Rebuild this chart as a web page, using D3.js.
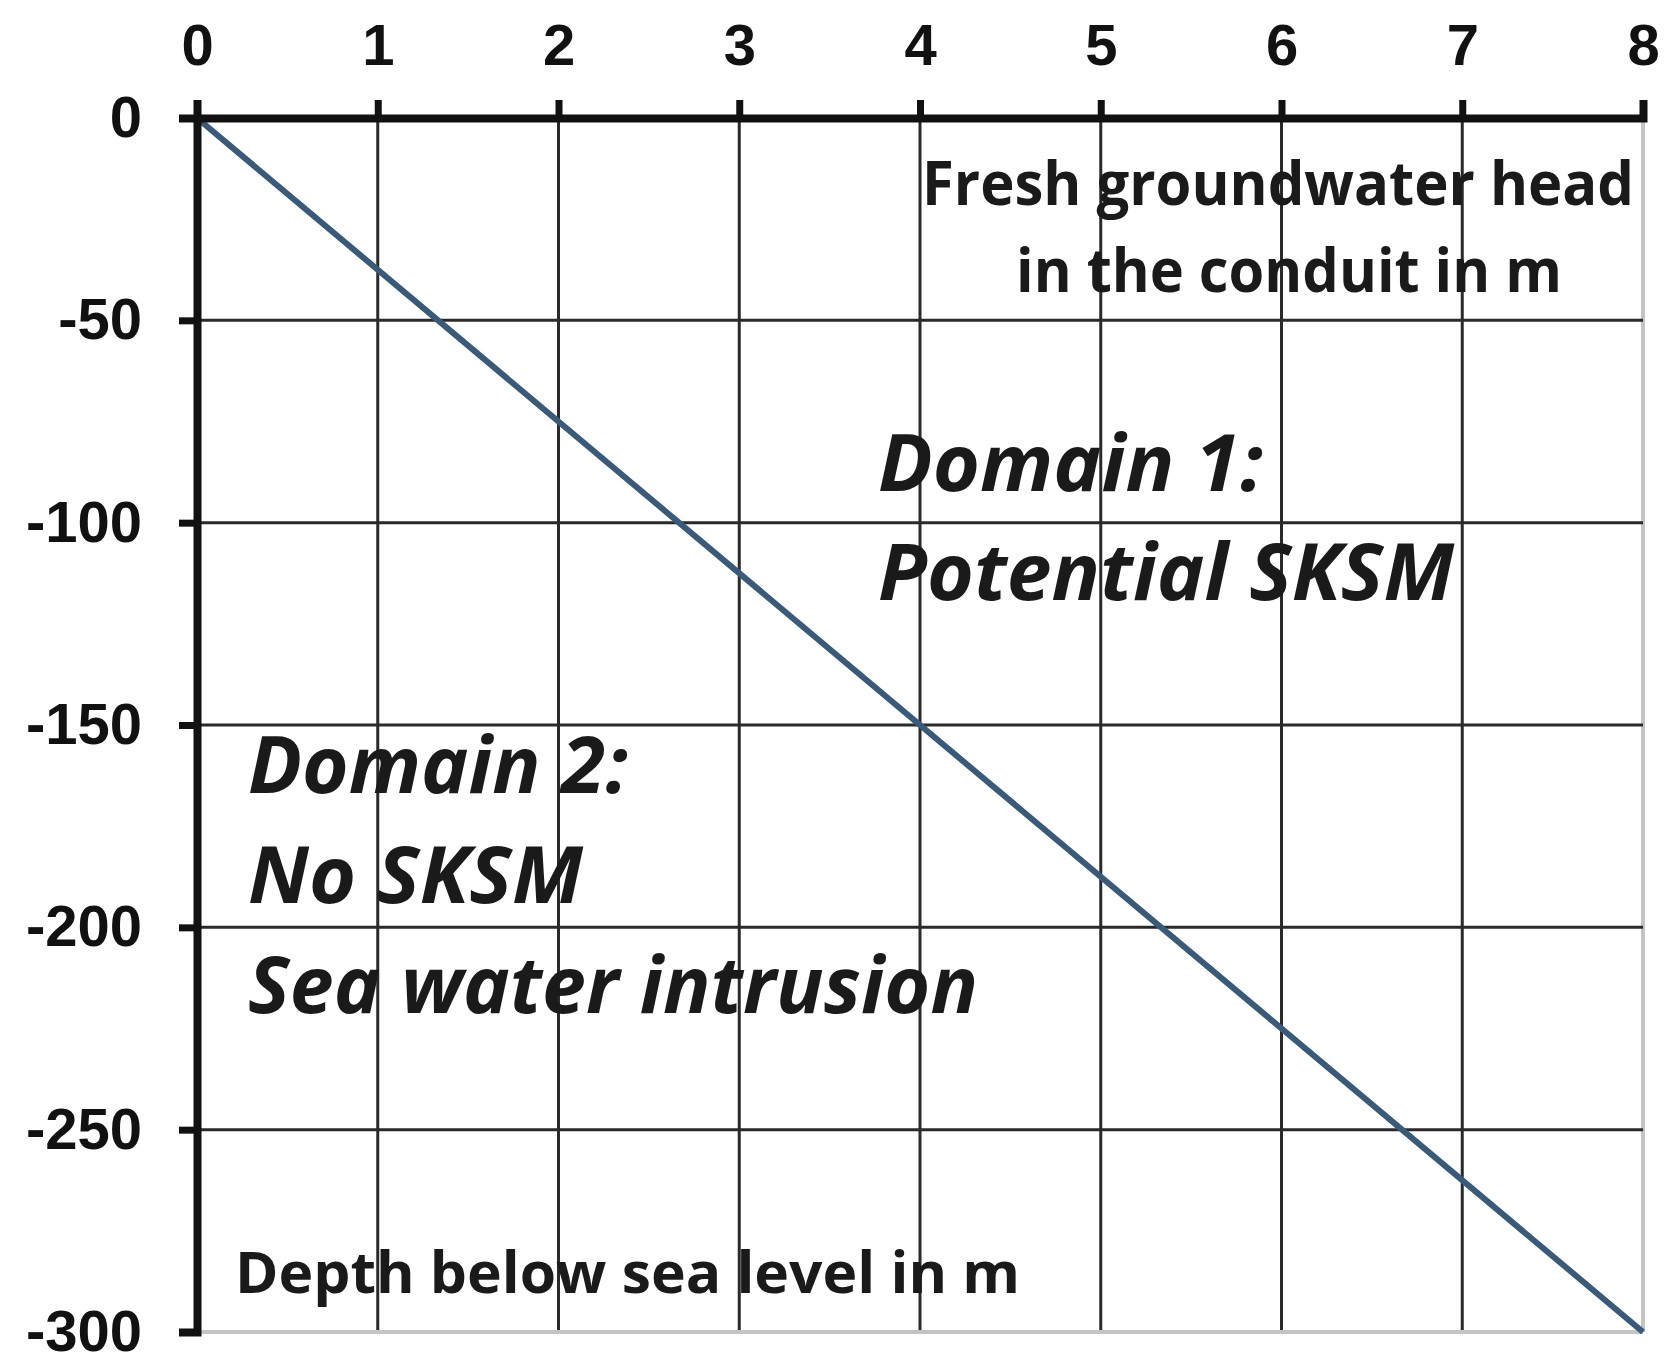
<!DOCTYPE html>
<html lang="en">
<head>
  <meta charset="utf-8">
  <script src="https://d3js.org/d3.v7.min.js"></script>
  <style>
    body, html {
      margin: 0;
      padding: 0;
      background: #fff;
    }
    .tick text {
      font-family: "Liberation Sans", Arial, sans-serif;
      font-weight: bold;
      font-size: 58px;
      fill: #111;
    }
    .note {
      font-family: "Open Sans", "Noto Sans", sans-serif;
      font-weight: bold;
      fill: #1a1a1a;
    }
  </style>
</head>
<body>
<svg id="chart" width="1674" height="1363"></svg>

<script>
    // head of fresh groundwater in the conduit (m) vs depth below sea level (m)
    var headTicks = [0, 1, 2, 3, 4, 5, 6, 7, 8];
    var depthTicks = [0, -50, -100, -150, -200, -250, -300];
    var lineHead = [0, 8];
    var lineDepth = [0, -300];

    var margin = {top: 118, left: 197, right: 31, bottom: 31},
        width = 1674 - margin.left - margin.right,
        height = 1363 - margin.top - margin.bottom;

    var svg = d3.select("#chart");
    svg.append("rect").attr("width", 1674).attr("height", 1363).attr("fill", "#fff");

    var g = svg.append("g")
        .attr("transform", "translate(" + margin.left + "," + margin.top + ")");

    var x = d3.scaleLinear().domain([0, 8]).range([0, width]);
    var y = d3.scaleLinear().domain([0, -300]).range([0, height]);

    // grid lines (the last one on each side is lighter)
    g.selectAll(".vgrid")
        .data(headTicks.slice(1))
        .enter().append("line")
        .attr("x1", d => x(d)).attr("x2", d => x(d))
        .attr("y1", 0).attr("y2", height)
        .attr("stroke", d => d === 8 ? "#c4c4c4" : "#2a2a2a")
        .attr("stroke-width", d => d === 8 ? 4 : 3);

    g.selectAll(".hgrid")
        .data(depthTicks.slice(1))
        .enter().append("line")
        .attr("x1", 0).attr("x2", width)
        .attr("y1", d => y(d)).attr("y2", d => y(d))
        .attr("stroke", d => d === -300 ? "#c4c4c4" : "#2a2a2a")
        .attr("stroke-width", d => d === -300 ? 4 : 3);

    // the line
    var pts = lineHead.map((h, i) => [h, lineDepth[i]]);
    g.append("path")
        .datum(pts)
        .attr("fill", "none")
        .attr("stroke", "#3a5a7a")
        .attr("stroke-width", 6)
        .attr("d", d3.line().x(d => x(d[0])).y(d => y(d[1])));

    // axes
    var fmt = d => String(d);
    var xAxis = g.append("g")
        .call(d3.axisTop(x).tickValues(headTicks).tickFormat(fmt).tickSize(18).tickSizeOuter(18).tickPadding(35));
    var yAxis = g.append("g")
        .call(d3.axisLeft(y).tickValues(depthTicks).tickFormat(fmt).tickSize(18).tickSizeOuter(18).tickPadding(37));

    [xAxis, yAxis].forEach(function(a) {
        a.select(".domain").attr("stroke", "#111").attr("stroke-width", 8).attr("stroke-linejoin", "miter");
        a.selectAll(".tick line").attr("stroke", "#111").attr("stroke-width", 7);
    });
    xAxis.selectAll(".tick text").attr("dy", "0");

    // annotations
    var notes = [
        {t: "Fresh groundwater head", x: 922, y: 205, w: 712, size: 60, it: false},
        {t: "in the conduit in m", x: 1016, y: 292, w: 546, size: 60, it: false},
        {t: "Domain 1:", x: 878, y: 491, w: 385, size: 78, it: true},
        {t: "Potential SKSM", x: 878, y: 600, w: 576, size: 78, it: true},
        {t: "Domain 2:", x: 248, y: 793, w: 380, size: 78, it: true},
        {t: "No SKSM", x: 248, y: 903, w: 335, size: 78, it: true},
        {t: "Sea water intrusion", x: 248, y: 1013, w: 730, size: 78, it: true},
        {t: "Depth below sea level in m", x: 235, y: 1293, w: 785, size: 58, it: false}
    ];

    svg.selectAll(".note")
        .data(notes)
        .enter().append("text")
        .attr("class", "note")
        .attr("x", d => d.x)
        .attr("y", d => d.y)
        .attr("textLength", d => d.w)
        .attr("lengthAdjust", "spacingAndGlyphs")
        .style("font-size", d => d.size + "px")
        .style("font-style", d => d.it ? "italic" : "normal")
        .text(d => d.t);
</script>
</body>
</html>
